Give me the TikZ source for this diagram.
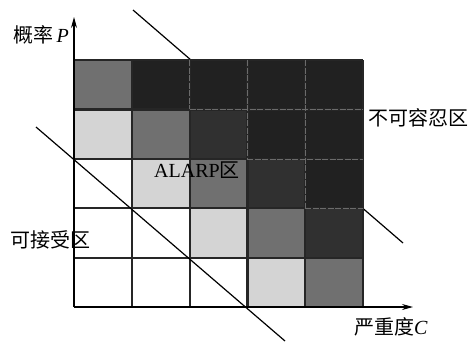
\documentclass[tikz,border=0pt]{standalone}
\usepackage{fontspec}
\setmainfont{Liberation Serif}
\newfontfamily\cjk{Noto Sans CJK SC}
\usetikzlibrary{arrows.meta}
\definecolor{cB}{gray}{0.13}
\definecolor{cD}{gray}{0.19}
\definecolor{cM}{gray}{0.44}
\definecolor{cL}{gray}{0.83}
\definecolor{cW}{gray}{1}
\definecolor{cF}{gray}{0.42}
\tikzset{
  gridline/.style={line width=2.2pt, black!85},
  faint/.style={line width=0.5pt, cF, dash pattern=on 6pt off 1.5pt},
  axisline/.style={line width=1.1pt, -{Stealth[length=11pt,width=6pt]}},
  diag/.style={line width=1.2pt},
  lbl/.style={inner sep=0pt, font=\fontsize{20}{22}\selectfont},
}
\begin{document}
\begin{tikzpicture}[x=1pt,y=-1pt]
\useasboundingbox (0,0) rectangle (473,343);
% upper boundary line (hidden behind the dark cells)
\coordinate (u1) at (133,10);
\coordinate (u2) at (403,243);
\draw[diag] (u1) -- (u2);
% cells
\def\cw{57.8}\def\ch{49.4}
\foreach \r/\row in {0/{cM,cB,cB,cB,cB},1/{cL,cM,cD,cB,cB},2/{cW,cL,cM,cD,cB},3/{cW,cW,cL,cM,cD},4/{cW,cW,cW,cL,cM}}{
  \foreach \col [count=\c from 0] in \row {
    \fill[\col] ({74+\c*\cw},{60+\r*\ch}) rectangle ++(\cw,\ch);
  }
}
% grid lines
\foreach \i in {0,...,5}{
  \draw[gridline] ({74+\i*\cw},60) -- ({74+\i*\cw},307);
  \draw[gridline] (74,{60+\i*\ch}) -- (363,{60+\i*\ch});
}
% faint lines inside dark region
\draw[faint] (189.6,60) -- (189.6,109.4);
\draw[faint] (247.4,60) -- (247.4,158.8);
\draw[faint] (305.2,60) -- (305.2,208.2);
\draw[faint] (189.6,109.4) -- (363,109.4);
\draw[faint] (247.4,158.8) -- (363,158.8);
\draw[faint] (305.2,208.2) -- (363,208.2);
% axes
\coordinate (O) at (74,307);
\coordinate (Ytop) at (74,17);
\coordinate (Xend) at (413,307);
\draw[axisline] (O) -- (Ytop);
\draw[axisline] (O) -- (Xend);
% lower boundary line
\coordinate (l1) at (36,127);
\coordinate (l2) at (285,341);
\draw[diag] (l1) -- (l2);
% labels
\node[lbl, anchor=east] (plabel) at (69,35) {{\cjk 概率}\,\textit{P}};
\node[lbl, anchor=west] (intol) at (368,118) {\cjk 不可容忍区};
\node[lbl, anchor=west] (alarp) at (154,170) {ALARP{\cjk 区}};
\node[lbl, anchor=west] (accept) at (10,240) {\cjk 可接受区};
\node[lbl, anchor=west] (clabel) at (354,327) {{\cjk 严重度}\textit{C}};
\end{tikzpicture}
\end{document}
